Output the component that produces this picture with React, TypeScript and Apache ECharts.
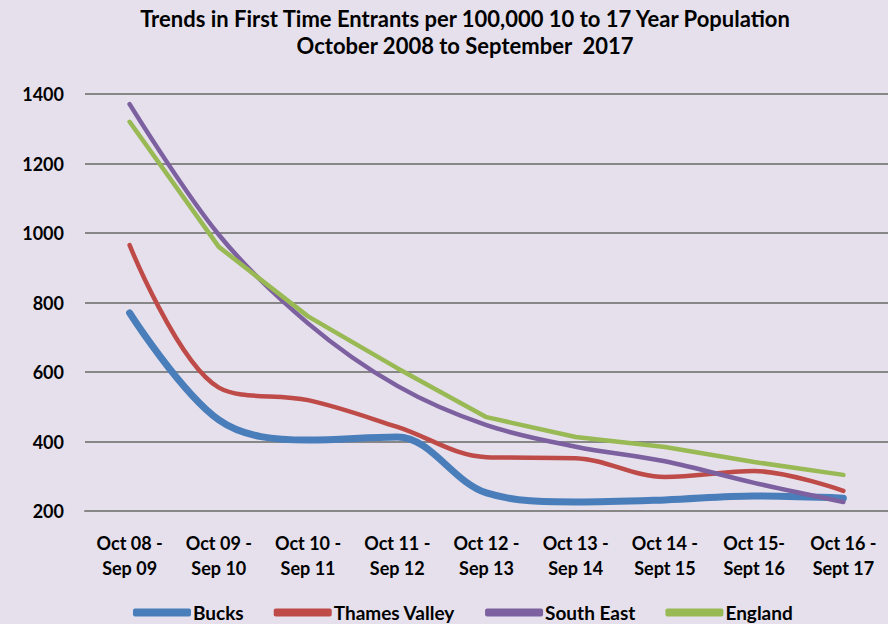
import React, { useEffect, useRef } from "react";
import * as echarts from "echarts";

const categories = [
  "Oct 08 -\nSep 09",
  "Oct 09 -\nSep 10",
  "Oct 10 -\nSep 11",
  "Oct 11 -\nSep 12",
  "Oct 12 -\nSep 13",
  "Oct 13 -\nSep 14",
  "Oct 14 -\nSept 15",
  "Oct 15-\nSept 16",
  "Oct 16 -\nSept 17",
];

const bucks = [770, 462, 404, 413, 252, 226, 232, 243, 237];
const thamesValley = [965, 555, 519, 442, 355, 352, 298, 315, 258];
const southEast = [1371, 995, 740, 560, 447, 385, 343, 281, 226];
const england = [1320, 960, 760, 611, 470, 413, 384, 341, 304];

const FONT = "Lato, 'Open Sans', sans-serif";

export default function App() {
  const ref = useRef<HTMLDivElement>(null);
  useEffect(() => {
    if (!ref.current) return;
    const chart = echarts.init(ref.current, null, { renderer: "svg" });
    chart.setOption({
      animation: false,
      backgroundColor: "#E5E0EC",
      textStyle: { fontFamily: FONT },
      title: {
        text: "Trends in First Time Entrants per 100,000 10 to 17 Year Population\nOctober 2008 to September  2017",
        left: 460,
        top: 0,
        textAlign: "center",
        textStyle: {
          fontFamily: FONT,
          fontWeight: "bold",
          fontSize: 22,
          lineHeight: 27,
          color: "#000",
        },
      },
      legend: {
        bottom: -3,
        left: 128,
        itemWidth: 58,
        itemHeight: 8,
        itemGap: 30,
        icon: "roundRect",
        textStyle: {
          fontFamily: FONT,
          fontWeight: "bold",
          fontSize: 19,
          color: "#000",
          padding: [0, 0, 0, -3],
        },
        data: ["Bucks", "Thames Valley", "South East", "England"],
      },
      grid: { left: 85, right: 0, top: 94, bottom: 113 },
      xAxis: {
        type: "category",
        data: categories,
        boundaryGap: true,
        axisLine: { show: true, lineStyle: { color: "#878787", width: 2 } },
        axisTick: { show: false },
        axisLabel: {
          margin: 19,
          fontFamily: FONT,
          fontWeight: "bold",
          fontSize: 18,
          lineHeight: 25,
          color: "#000",
          interval: 0,
        },
      },
      yAxis: {
        type: "value",
        min: 200,
        max: 1400,
        interval: 200,
        axisLine: { show: false },
        axisTick: { show: false },
        axisLabel: {
          margin: 21,
          fontFamily: FONT,
          fontWeight: "bold",
          fontSize: 18,
          color: "#000",
          formatter: (v: number) => String(v),
        },
        splitLine: { lineStyle: { color: "#878787", width: 2 } },
      },
      series: [
        {
          name: "Bucks",
          type: "line",
          data: bucks,
          smooth: 0.35,
          showSymbol: false,
          symbol: "none",
          color: "#4A7EBB",
          lineStyle: { width: 7, color: "#4A7EBB", cap: "round" },
        },
        {
          name: "Thames Valley",
          type: "line",
          data: thamesValley,
          smooth: 0.35,
          showSymbol: false,
          symbol: "none",
          color: "#BE4B48",
          lineStyle: { width: 4.5, color: "#BE4B48", cap: "round" },
        },
        {
          name: "South East",
          type: "line",
          data: southEast,
          smooth: 0.35,
          showSymbol: false,
          symbol: "none",
          color: "#7D60A0",
          lineStyle: { width: 4.5, color: "#7D60A0", cap: "round" },
        },
        {
          name: "England",
          type: "line",
          data: england,
          smooth: false,
          showSymbol: false,
          symbol: "none",
          color: "#98B954",
          lineStyle: { width: 4.5, color: "#98B954", cap: "round" },
        },
      ],
    });
    return () => chart.dispose();
  }, []);
  return (
    <div
      ref={ref}
      style={{ position: "fixed", left: 0, top: 0, width: 888, height: 624 }}
    />
  );
}
